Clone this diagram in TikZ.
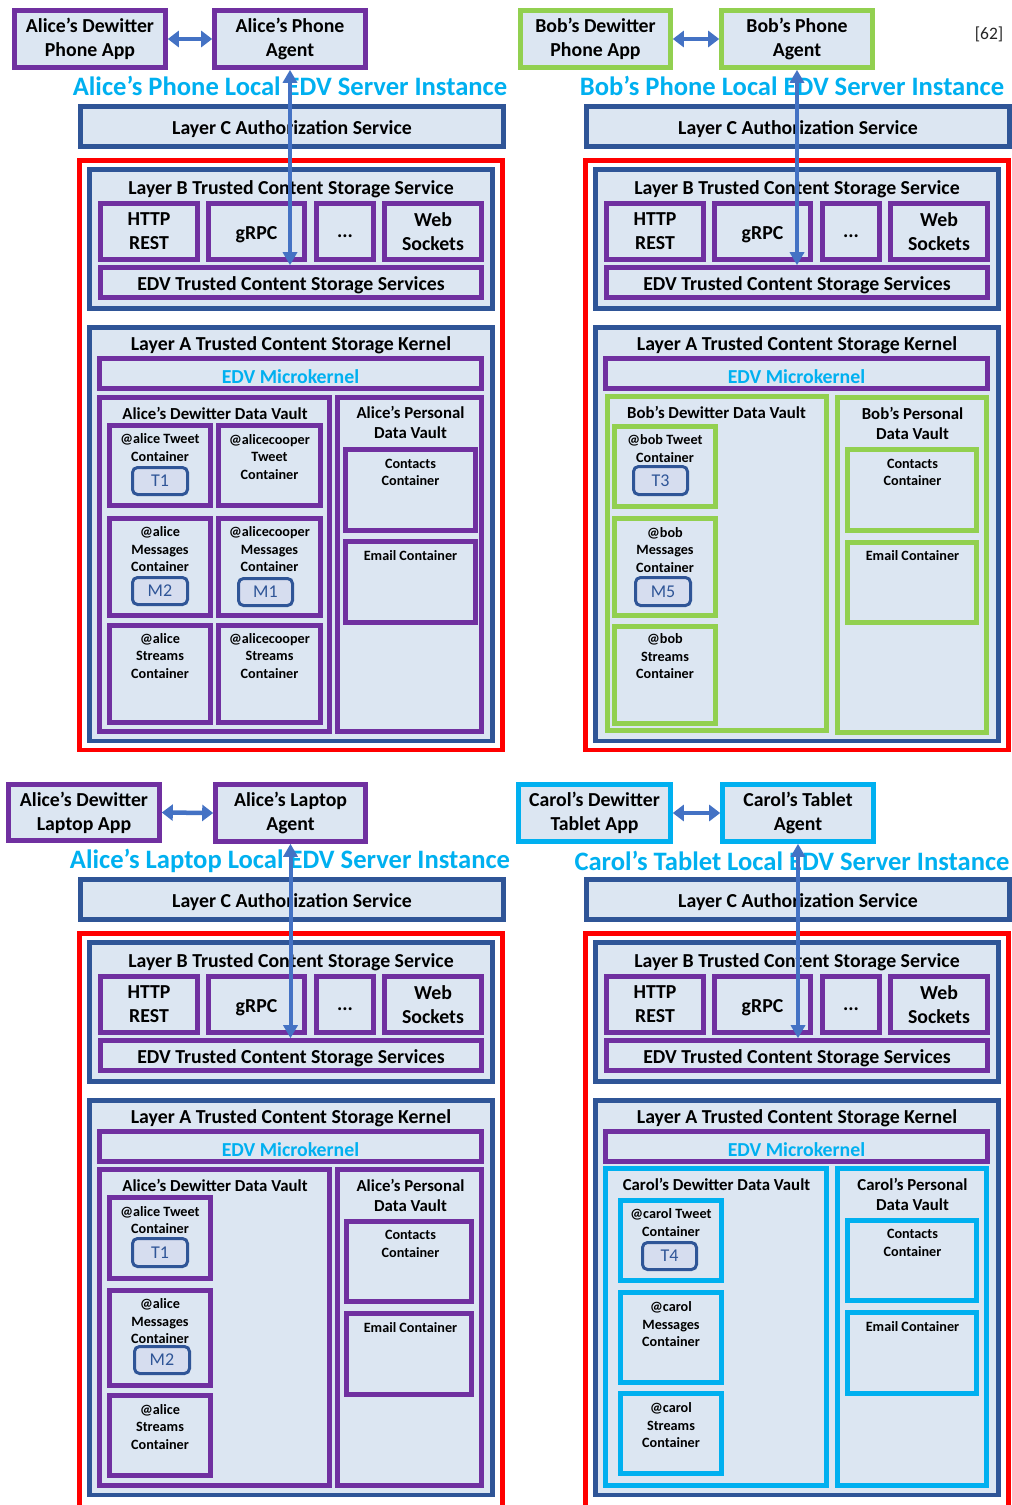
\documentclass[tikz,border=0pt]{standalone}
\usepackage{fontspec}
\setmainfont{Carlito}
\usetikzlibrary{arrows.meta}
\definecolor{fillc}{HTML}{DCE6F2}
\definecolor{tokfill}{HTML}{D6DDEF}
\definecolor{lblue}{HTML}{2F5597}
\definecolor{purp}{HTML}{7030A0}
\definecolor{grn}{HTML}{92D050}
\definecolor{cyn}{HTML}{00B0F0}
\definecolor{arrc}{HTML}{4472C4}
\definecolor{refc}{HTML}{262626}
\newcommand\myLblFont{\fontsize{19.8}{24}\selectfont\bfseries}
\newcommand\myDn{\rule{0pt}{20pt}}
\newcommand\bx[7]{\node[#1, minimum width={(#5)-(#3)}, minimum height={(#6)-(#4)}] (#2) at ({((#3)+(#5))/2},{((#4)+(#6))/2}) {#7};}
\tikzset{
  x=1pt, y=-1pt,
  box/.style={inner sep=0pt, fill=fillc, line width=4.6pt, align=center, font=\myLblFont, execute at begin node=\myDn},
  pbox/.style={box, draw=purp},
  bbox/.style={box, draw=lblue},
  gbox/.style={box, draw=grn},
  cbox/.style={box, draw=cyn},
  redbox/.style={draw=red, line width=4.6pt, inner sep=0pt},
  tok/.style={draw=lblue, line width=3pt, rounded corners=5pt, fill=tokfill, inner sep=0pt, font=\fontsize{18}{20}\selectfont, text=lblue},
  lbl/.style={inner sep=0pt, align=center, font=\myLblFont, yshift=-1.5pt},
  vt/.style={inner sep=0pt, align=center, font=\fontsize{16.8}{20}\selectfont\bfseries, yshift=-1.2pt},
  st/.style={inner sep=0pt, align=center, font=\fontsize{14.2}{17.5}\selectfont\bfseries, yshift=-0.8pt},
  ttl/.style={inner sep=0pt, font=\fontsize{26.6}{30}\selectfont\bfseries, text=cyn},
  harrow/.style={draw=arrc, line width=4.5pt, {Triangle[width=16pt,length=11pt]}-{Triangle[width=16pt,length=11pt]}},
  varrow/.style={draw=arrc, line width=4pt, {Triangle[width=14pt,length=13pt]}-{Triangle[width=14pt,length=13pt]}},
}
% #1 prefix, #2 shift, #3 red bottom, #4 layer A bottom
\newcommand\server[4]{%
\begin{scope}[shift={#2}]
 \bx{bbox}{#1C}{80.5}{106.5}{503.5}{146.5}{Layer C Authorization Service}
 \bx{redbox}{#1R}{79.5}{160.5}{502.5}{#3}{}
 \bx{bbox}{#1B}{89.5}{169.5}{492.5}{308.5}{}
 \node[lbl] (#1Bt) at (291,188) {Layer B Trusted Content Storage Service};
 \bx{pbox}{#1http}{100.5}{203.5}{197.5}{259.5}{HTTP\\REST}
 \bx{pbox}{#1grpc}{208.5}{203.5}{304.5}{259.5}{gRPC}
 \bx{pbox}{#1dots}{316.5}{203.5}{373.5}{259.5}{\strut...}
 \bx{pbox}{#1web}{384.5}{203.5}{481.5}{259.5}{Web\\Sockets}
 \bx{pbox}{#1edv}{100.5}{267.5}{481.5}{297.5}{EDV Trusted Content Storage Services}
 \bx{bbox}{#1A}{89.5}{327.5}{492.5}{#4}{}
 \node[lbl] (#1At) at (291,344) {Layer A Trusted Content Storage Kernel};
 \bx{pbox}{#1mk}{99.5}{358.5}{481.5}{388.5}{\textcolor{cyn}{EDV Microkernel}}
\end{scope}}
\begin{document}
\begin{tikzpicture}
\useasboundingbox (0,0) rectangle (1012,1505);
\fill[white] (0,0) rectangle (1012,1505);
\clip (0,0) rectangle (1012,1505);

% ---------- servers ----------
\server{a}{(0,0)}{750}{741}
\server{b}{(506,0)}{750}{741}
\server{l}{(0,773)}{760}{722}
\server{c}{(506,773)}{760}{722}

% ---------- top-left: Alice phone ----------
\bx{pbox}{aApp}{14.5}{10.5}{165.5}{67.5}{Alice’s Dewitter\\Phone App}
\bx{pbox}{aAgent}{214.5}{10.5}{365.5}{67.5}{Alice’s Phone\\Agent}
\node[ttl] (aTitle) at (290,86) {Alice’s Phone Local EDV Server Instance};
\bx{pbox}{aDV}{99.5}{397.5}{329.5}{731.5}{}
\node[vt] (aDVt) at (215,412) {Alice’s Dewitter Data Vault};
\bx{pbox}{aPV}{337.5}{397.5}{481.5}{731.5}{}
\node[vt] (aPVt) at (410.5,421) {Alice’s Personal\\Data Vault};
\bx{pbox}{aCont}{345.5}{449.5}{475.5}{530.5}{}
\node[st] (aContt) at (410.5,471.5) {Contacts\\Container};
\bx{pbox}{aEmail}{345.5}{541.5}{475.5}{622.5}{}
\node[st] (aEmailt) at (410.5,555) {Email Container};
\bx{pbox}{aTw}{109.5}{425.5}{210.5}{505.5}{}
\node[st] (aTwt) at (160,447) {@alice Tweet\\Container};
\bx{tok}{aT1}{132.5}{467.5}{187.5}{494.5}{T1}
\bx{pbox}{aTw2}{218.5}{425.5}{320.5}{505.5}{}
\node[st] (aTw2t) at (269.5,456) {@alicecooper\\Tweet\\Container};
\bx{pbox}{aMs}{109.5}{518.5}{210.5}{615.5}{}
\node[st] (aMst) at (160,548.5) {@alice\\Messages\\Container};
\bx{tok}{aM2}{132.5}{577.5}{187.5}{604.5}{M2}
\bx{pbox}{aMs2}{218.5}{518.5}{320.5}{615.5}{}
\node[st] (aMs2t) at (269.5,548.5) {@alicecooper\\Messages\\Container};
\bx{tok}{aM1}{238.5}{578.5}{292.5}{605.5}{M1}
\bx{pbox}{aSt}{109.5}{625.5}{210.5}{722.5}{}
\node[st] (aStt) at (160,655) {@alice\\Streams\\Container};
\bx{pbox}{aSt2}{218.5}{625.5}{320.5}{722.5}{}
\node[st] (aSt2t) at (269.5,655) {@alicecooper\\Streams\\Container};

% ---------- top-right: Bob phone ----------
\bx{gbox}{bApp}{520.5}{10.5}{670.5}{67.5}{Bob’s Dewitter\\Phone App}
\bx{gbox}{bAgent}{721.5}{10.5}{872.5}{67.5}{Bob’s Phone\\Agent}
\node[inner sep=0pt, font=\fontsize{17.5}{20}\selectfont, text=refc] (ref) at (989,34) {[62]};
\node[ttl] (bTitle) at (792,86) {Bob’s Phone Local EDV Server Instance};
\bx{gbox}{bDV}{607.5}{396.5}{826.5}{730.5}{}
\node[vt] (bDVt) at (716.5,411) {Bob’s Dewitter Data Vault};
\bx{gbox}{bPV}{837.5}{397.5}{986.5}{732.5}{}
\node[vt] (bPVt) at (912.5,422) {Bob’s Personal\\Data Vault};
\bx{gbox}{bCont}{847.5}{449.5}{976.5}{530.5}{}
\node[st] (bContt) at (912.5,471.5) {Contacts\\Container};
\bx{gbox}{bEmail}{847.5}{542.5}{976.5}{622.5}{}
\node[st] (bEmailt) at (912.5,555) {Email Container};
\bx{gbox}{bTw}{614.5}{426.5}{715.5}{506.5}{}
\node[st] (bTwt) at (665,448) {@bob Tweet\\Container};
\bx{tok}{bT3}{633.5}{466.5}{687.5}{494.5}{T3}
\bx{gbox}{bMs}{614.5}{518.5}{715.5}{615.5}{}
\node[st] (bMst) at (665,549) {@bob\\Messages\\Container};
\bx{tok}{bM5}{635.5}{577.5}{690.5}{605.5}{M5}
\bx{gbox}{bSt}{614.5}{626.5}{715.5}{723.5}{}
\node[st] (bStt) at (665,655.5) {@bob\\Streams\\Container};

% ---------- bottom-left: Alice laptop ----------
\bx{pbox}{lApp}{8.5}{784.5}{159.5}{840.5}{Alice’s Dewitter\\Laptop App}
\bx{pbox}{lAgent}{215.5}{784.5}{365.5}{841.5}{Alice’s Laptop\\Agent}
\node[ttl] (lTitle) at (290,861) {Alice’s Laptop Local EDV Server Instance};
\bx{pbox}{lDV}{99.5}{1169.5}{329.5}{1485.5}{}
\node[vt] (lDVt) at (215,1184) {Alice’s Dewitter Data Vault};
\bx{pbox}{lPV}{337.5}{1169.5}{481.5}{1485.5}{}
\node[vt] (lPVt) at (410.5,1194) {Alice’s Personal\\Data Vault};
\bx{pbox}{lCont}{346.5}{1221.5}{471.5}{1301.5}{}
\node[st] (lContt) at (410.5,1243) {Contacts\\Container};
\bx{pbox}{lEmail}{346.5}{1313.5}{471.5}{1394.5}{}
\node[st] (lEmailt) at (410.5,1327) {Email Container};
\bx{pbox}{lTw}{109.5}{1197.5}{210.5}{1278.5}{}
\node[st] (lTwt) at (160,1219.5) {@alice Tweet\\Container};
\bx{tok}{lT1}{132.5}{1238.5}{187.5}{1266.5}{T1}
\bx{pbox}{lMs}{109.5}{1290.5}{210.5}{1385.5}{}
\node[st] (lMst) at (160,1320.5) {@alice\\Messages\\Container};
\bx{tok}{lM2}{134.5}{1346.5}{189.5}{1373.5}{M2}
\bx{pbox}{lSt}{109.5}{1395.5}{210.5}{1475.5}{}
\node[st] (lStt) at (160,1426) {@alice\\Streams\\Container};

% ---------- bottom-right: Carol tablet ----------
\bx{cbox}{cApp}{518.5}{784.5}{670.5}{841.5}{Carol’s Dewitter\\Tablet App}
\bx{cbox}{cAgent}{722.5}{784.5}{873.5}{841.5}{Carol’s Tablet\\Agent}
\node[ttl] (cTitle) at (792,861) {Carol’s Tablet Local EDV Server Instance};
\bx{cbox}{cDV}{605.5}{1168.5}{826.5}{1485.5}{}
\node[vt] (cDVt) at (716.5,1183) {Carol’s Dewitter Data Vault};
\bx{cbox}{cPV}{837.5}{1168.5}{986.5}{1485.5}{}
\node[vt] (cPVt) at (912.5,1193) {Carol’s Personal\\Data Vault};
\bx{cbox}{cCont}{847.5}{1220.5}{976.5}{1300.5}{}
\node[st] (cContt) at (912.5,1242) {Contacts\\Container};
\bx{cbox}{cEmail}{847.5}{1312.5}{976.5}{1393.5}{}
\node[st] (cEmailt) at (912.5,1326) {Email Container};
\bx{cbox}{cTw}{620.5}{1200.5}{721.5}{1280.5}{}
\node[st] (cTwt) at (671,1222) {@carol Tweet\\Container};
\bx{tok}{cT4}{642.5}{1242.5}{696.5}{1269.5}{T4}
\bx{cbox}{cMs}{620.5}{1292.5}{721.5}{1382.5}{}
\node[st] (cMst) at (671,1323.5) {@carol\\Messages\\Container};
\bx{cbox}{cSt}{620.5}{1393.5}{721.5}{1473.5}{}
\node[st] (cStt) at (671,1424.5) {@carol\\Streams\\Container};

% ---------- connectors ----------
\draw[harrow] (aApp.east) -- (aAgent.west);
\draw[harrow] (bApp.east) -- (bAgent.west);
\draw[harrow] (lApp.east) -- (lAgent.west);
\draw[harrow] (cApp.east) -- (cAgent.west);
\draw[varrow] (aAgent.south) -- (aAgent.south |- aedv.north);
\draw[varrow] (bAgent.south) -- (bAgent.south |- bedv.north);
\draw[varrow] (lAgent.south) -- (lAgent.south |- ledv.north);
\draw[varrow] (cAgent.south) -- (cAgent.south |- cedv.north);
\end{tikzpicture}
\end{document}
